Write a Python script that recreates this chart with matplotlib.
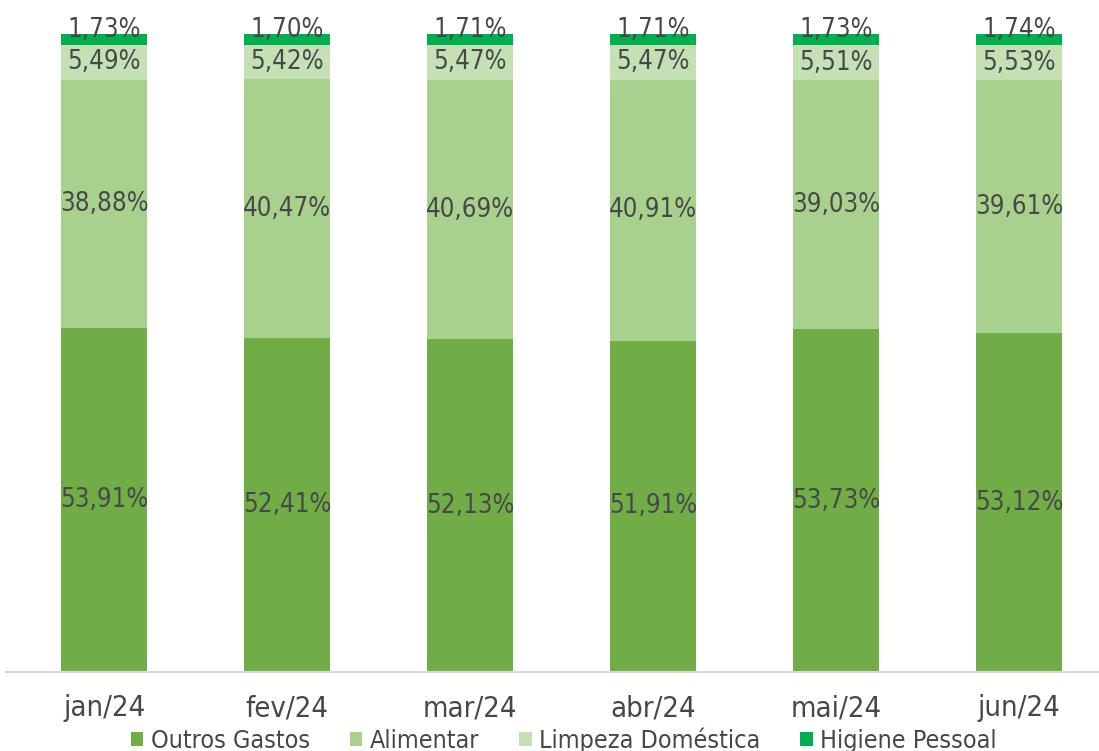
import numpy as np
import matplotlib.pyplot as plt
from matplotlib.patches import Patch

plt.rcParams['font.family'] = ['DejaVu Sans']
plt.rcParams['font.stretch'] = 'condensed'

# dados (% por mês)
meses = ['jan/24', 'fev/24', 'mar/24', 'abr/24', 'mai/24', 'jun/24']
outros = [53.91, 52.41, 52.13, 51.91, 53.73, 53.12]
alimentar = [38.88, 40.47, 40.69, 40.91, 39.03, 39.61]
limpeza = [5.49, 5.42, 5.47, 5.47, 5.51, 5.53]
higiene = [1.73, 1.70, 1.71, 1.71, 1.73, 1.74]

series = [
    ('Outros Gastos', outros, '#70AD47'),
    ('Alimentar', alimentar, '#A9D18E'),
    ('Limpeza Doméstica', limpeza, '#C5E0B4'),
    ('Higiene Pessoal', higiene, '#00B050'),
]

def fmt(v):
    return f'{v:.2f}'.replace('.', ',') + '%'

fig = plt.figure(figsize=(10.99, 7.51), dpi=100)
ax = fig.add_axes([6 / 1099, 79 / 751, 1 - 6 / 1099, 638 / 751])

x = np.arange(len(meses))
base = np.zeros(len(meses))
txt_color = '#474747'
for i, (nome, vals, cor) in enumerate(series):
    vals = np.array(vals)
    ax.bar(x, vals, width=0.47, bottom=base, color=cor, edgecolor='none')
    for xi, b, v in zip(x, base, vals):
        if nome == 'Higiene Pessoal':
            ax.text(xi, 99.6, fmt(v), ha='center', va='baseline',
                    fontsize=18.5, color=txt_color, clip_on=False)
        else:
            ax.text(xi, b + v / 2, fmt(v), ha='center', va='center',
                    fontsize=18.5, color=txt_color)
    base = base + vals

ax.set_xlim(-0.536, 5.437)
ax.set_ylim(0, 100)
ax.set_yticks([])
ax.set_xticks(x)
ax.set_xticklabels(meses, fontsize=21, color=txt_color)
ax.tick_params(axis='x', length=0, pad=16)
for s in ['top', 'right', 'left']:
    ax.spines[s].set_visible(False)
ax.spines['bottom'].set_color('#D9D9D9')
ax.spines['bottom'].set_linewidth(1.5)

handles = [Patch(facecolor=c, edgecolor='none', label=n) for n, _, c in series]
fig.legend(handles=handles, loc='center', bbox_to_anchor=(0.513, 0.0146), ncol=4,
           frameon=False, fontsize=18, handlelength=0.5, handleheight=0.5,
           handletextpad=0.3, columnspacing=1.6, labelcolor=txt_color,
           borderpad=0)

plt.savefig('out.png', dpi=100)
